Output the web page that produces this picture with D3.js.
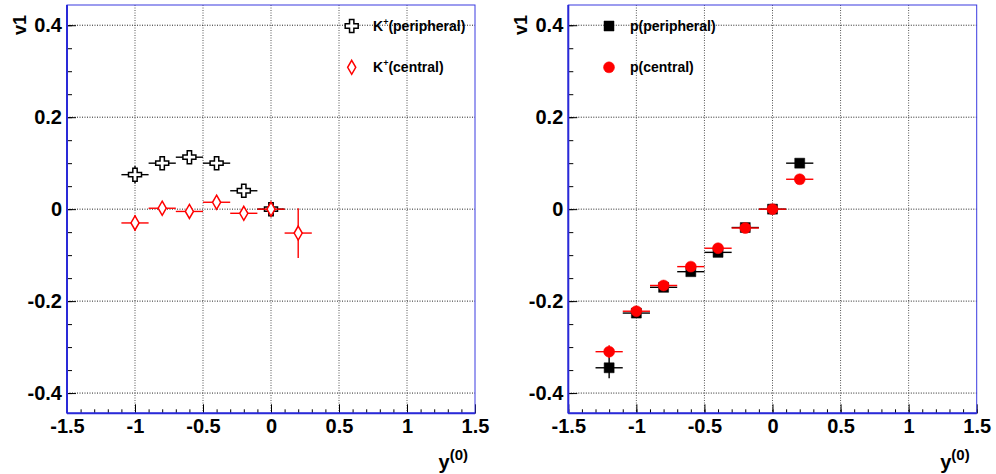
<!DOCTYPE html>
<html>
<head>
<meta charset="utf-8">
<script src="https://cdn.jsdelivr.net/npm/d3@7"></script>
<style>
  body { margin: 0; background: #fff; }
  text { font-family: "Liberation Sans", Arial, sans-serif; font-weight: bold; }
</style>
</head>
<body>
<script>
// Data
let kRapidity = [-1, -0.8, -0.6, -0.4, -0.2, 0];
let kPeripheral = [0.075, 0.100, 0.113, 0.100, 0.040, 0.000];
let kPeripheralErr = [0.019, 0.012, 0.010, 0.008, 0.006, 0.010];

let kCentralRapidity = [-1, -0.8, -0.6, -0.4, -0.2, 0, 0.2];
let kCentral = [-0.030, 0.002, -0.005, 0.015, -0.009, 0.000, -0.052];
let kCentralErr = [0.017, 0.008, 0.008, 0.008, 0.008, 0.008, 0.054];

let pRapidity = [-1.2, -1, -0.8, -0.6, -0.4, -0.2, 0, 0.2];
let pPeripheral = [-0.345, -0.226, -0.170, -0.136, -0.094, -0.040, 0.000, 0.100];
let pPeripheralErr = [0.023, 0.008, 0.007, 0.006, 0.006, 0.005, 0.005, 0.008];
let pCentral = [-0.310, -0.222, -0.166, -0.125, -0.085, -0.041, 0.000, 0.065];
let pCentralErr = [0.014, 0.006, 0.005, 0.005, 0.005, 0.004, 0.004, 0.006];

let binHalfWidth = 0.1;

let xTicks = [-1.5, -1, -0.5, 0, 0.5, 1, 1.5];
let yTicks = [-0.4, -0.2, 0, 0.2, 0.4];

let width = 996;
let height = 474;
let frameTop = 5, frameBottom = 413.3;

let svg = d3.select("body")
  .append("svg")
  .attr("width", width)
  .attr("height", height);

function range(a, b, step) {
  let out = [];
  let n = Math.round((b - a) / step);
  for (let i = 0; i <= n; i++) out.push(+(a + i * step).toFixed(3));
  return out;
}

function drawPanel(left, right, series, legendX, legendTextX) {
  let x = d3.scaleLinear().domain([-1.5, 1.5]).range([left, right]);
  let y = d3.scaleLinear().domain([-0.444, 0.444]).range([frameBottom, frameTop]);
  let g = svg.append("g");

  // grid
  g.selectAll(".gx").data(xTicks.slice(1, -1)).enter().append("line")
    .attr("x1", d => x(d)).attr("x2", d => x(d))
    .attr("y1", frameTop).attr("y2", frameBottom)
    .attr("stroke", "#555").attr("stroke-dasharray", "1,1.5");
  g.selectAll(".gy").data(yTicks).enter().append("line")
    .attr("x1", left).attr("x2", right)
    .attr("y1", d => y(d)).attr("y2", d => y(d))
    .attr("stroke", "#222").attr("stroke-dasharray", "1,1.5");

  // minor ticks
  let minorY = range(-0.4, 0.4, 0.05);
  g.append("g").attr("transform", `translate(${left},0)`)
    .call(d3.axisLeft(y).tickValues(minorY).tickSize(-5).tickFormat(""))
    .call(a => a.select(".domain").remove());
  let minorX = range(-1.5, 1.5, 0.1);
  g.append("g").attr("transform", `translate(0,${frameBottom})`)
    .call(d3.axisBottom(x).tickValues(minorX).tickSize(-4).tickFormat(""))
    .call(a => a.select(".domain").remove());

  // major ticks + labels
  let ya = g.append("g").attr("transform", `translate(${left},0)`)
    .call(d3.axisLeft(y).tickValues(yTicks).tickSize(-9).tickPadding(5).tickFormat(d => String(d)));
  ya.select(".domain").remove();
  ya.selectAll("text").attr("font-size", 20).attr("font-family", null).attr("fill", "#000");
  let xa = g.append("g").attr("transform", `translate(0,${frameBottom})`)
    .call(d3.axisBottom(x).tickValues(xTicks).tickSize(-9).tickPadding(6).tickFormat(d => String(d)));
  xa.select(".domain").remove();
  xa.selectAll("text").attr("font-size", 20).attr("font-family", null).attr("fill", "#000");

  // frame
  g.append("rect")
    .attr("x", left).attr("y", frameTop)
    .attr("width", right - left).attr("height", frameBottom - frameTop)
    .attr("fill", "none").attr("stroke", "#3a3ae0").attr("stroke-width", 1);
  g.append("line").attr("x1", left).attr("x2", left).attr("y1", frameTop).attr("y2", frameBottom)
    .attr("stroke", "#2a2ad8").attr("stroke-width", 2);
  g.append("line").attr("x1", left).attr("x2", right).attr("y1", frameBottom).attr("y2", frameBottom)
    .attr("stroke", "#2a2ad8").attr("stroke-width", 2);

  // axis titles
  g.append("text")
    .attr("transform", `translate(${left - 41},15) rotate(-90)`)
    .attr("text-anchor", "end")
    .attr("font-size", 18)
    .text("v1");
  let xt = g.append("text")
    .attr("x", right - 7).attr("y", 469)
    .attr("text-anchor", "end");
  xt.append("tspan").attr("font-size", 20).text("y");
  xt.append("tspan").attr("font-size", 15).attr("dy", -9).text("(0)");

  // data
  for (let s of series) {
    let pts = s.xs.map((r, i) => ({r: r, v: s.values[i], e: s.errors[i]}));
    let sg = g.append("g");
    sg.selectAll(".eh").data(pts).enter().append("line")
      .attr("x1", d => x(d.r - binHalfWidth)).attr("x2", d => x(d.r + binHalfWidth))
      .attr("y1", d => y(d.v)).attr("y2", d => y(d.v))
      .attr("stroke", s.color).attr("stroke-width", 1.4);
    sg.selectAll(".ev").data(pts).enter().append("line")
      .attr("x1", d => x(d.r)).attr("x2", d => x(d.r))
      .attr("y1", d => y(d.v - d.e)).attr("y2", d => y(d.v + d.e))
      .attr("stroke", s.color).attr("stroke-width", 1.4);
    sg.selectAll(".m").data(pts).enter().append("path")
      .attr("d", d3.symbol(s.symbol, s.size))
      .attr("transform", d => `translate(${x(d.r)},${y(d.v)})`)
      .attr("fill", s.open ? "#fff" : s.color)
      .attr("stroke", s.color)
      .attr("stroke-width", s.open ? 1.5 : 0.5);
  }

  // legend
  series.forEach((s, i) => {
    let ly = 26 + i * 41.3;
    g.append("path")
      .attr("d", d3.symbol(s.symbol, s.size))
      .attr("transform", `translate(${legendX},${ly})`)
      .attr("fill", s.open ? "#fff" : s.color)
      .attr("stroke", s.color)
      .attr("stroke-width", s.open ? 1.5 : 0.5);
    let t = g.append("text").attr("x", legendTextX).attr("y", ly + 5).attr("font-size", 14);
    for (let part of s.label) {
      let ts = t.append("tspan").text(part.t);
      if (part.sup) ts.attr("font-size", 9).attr("dy", -6);
      else if (part.after) ts.attr("dy", 6);
    }
  });
}

drawPanel(67, 475, [
  {xs: kRapidity, values: kPeripheral, errors: kPeripheralErr, color: "#000",
   symbol: d3.symbolCross, size: 94, open: true,
   label: [{t: "K"}, {t: "+", sup: true}, {t: "(peripheral)", after: true}]},
  {xs: kCentralRapidity, values: kCentral, errors: kCentralErr, color: "#ff0000",
   symbol: d3.symbolDiamond, size: 57, open: true,
   label: [{t: "K"}, {t: "+", sup: true}, {t: "(central)", after: true}]}
], 351.7, 373);

drawPanel(568.3, 976.7, [
  {xs: pRapidity, values: pPeripheral, errors: pPeripheralErr, color: "#000",
   symbol: d3.symbolSquare, size: 100, open: false,
   label: [{t: "p(peripheral)"}]},
  {xs: pRapidity, values: pCentral, errors: pCentralErr, color: "#ff0000",
   symbol: d3.symbolCircle, size: 95, open: false,
   label: [{t: "p(central)"}]}
], 609, 630);
</script>
</body>
</html>
